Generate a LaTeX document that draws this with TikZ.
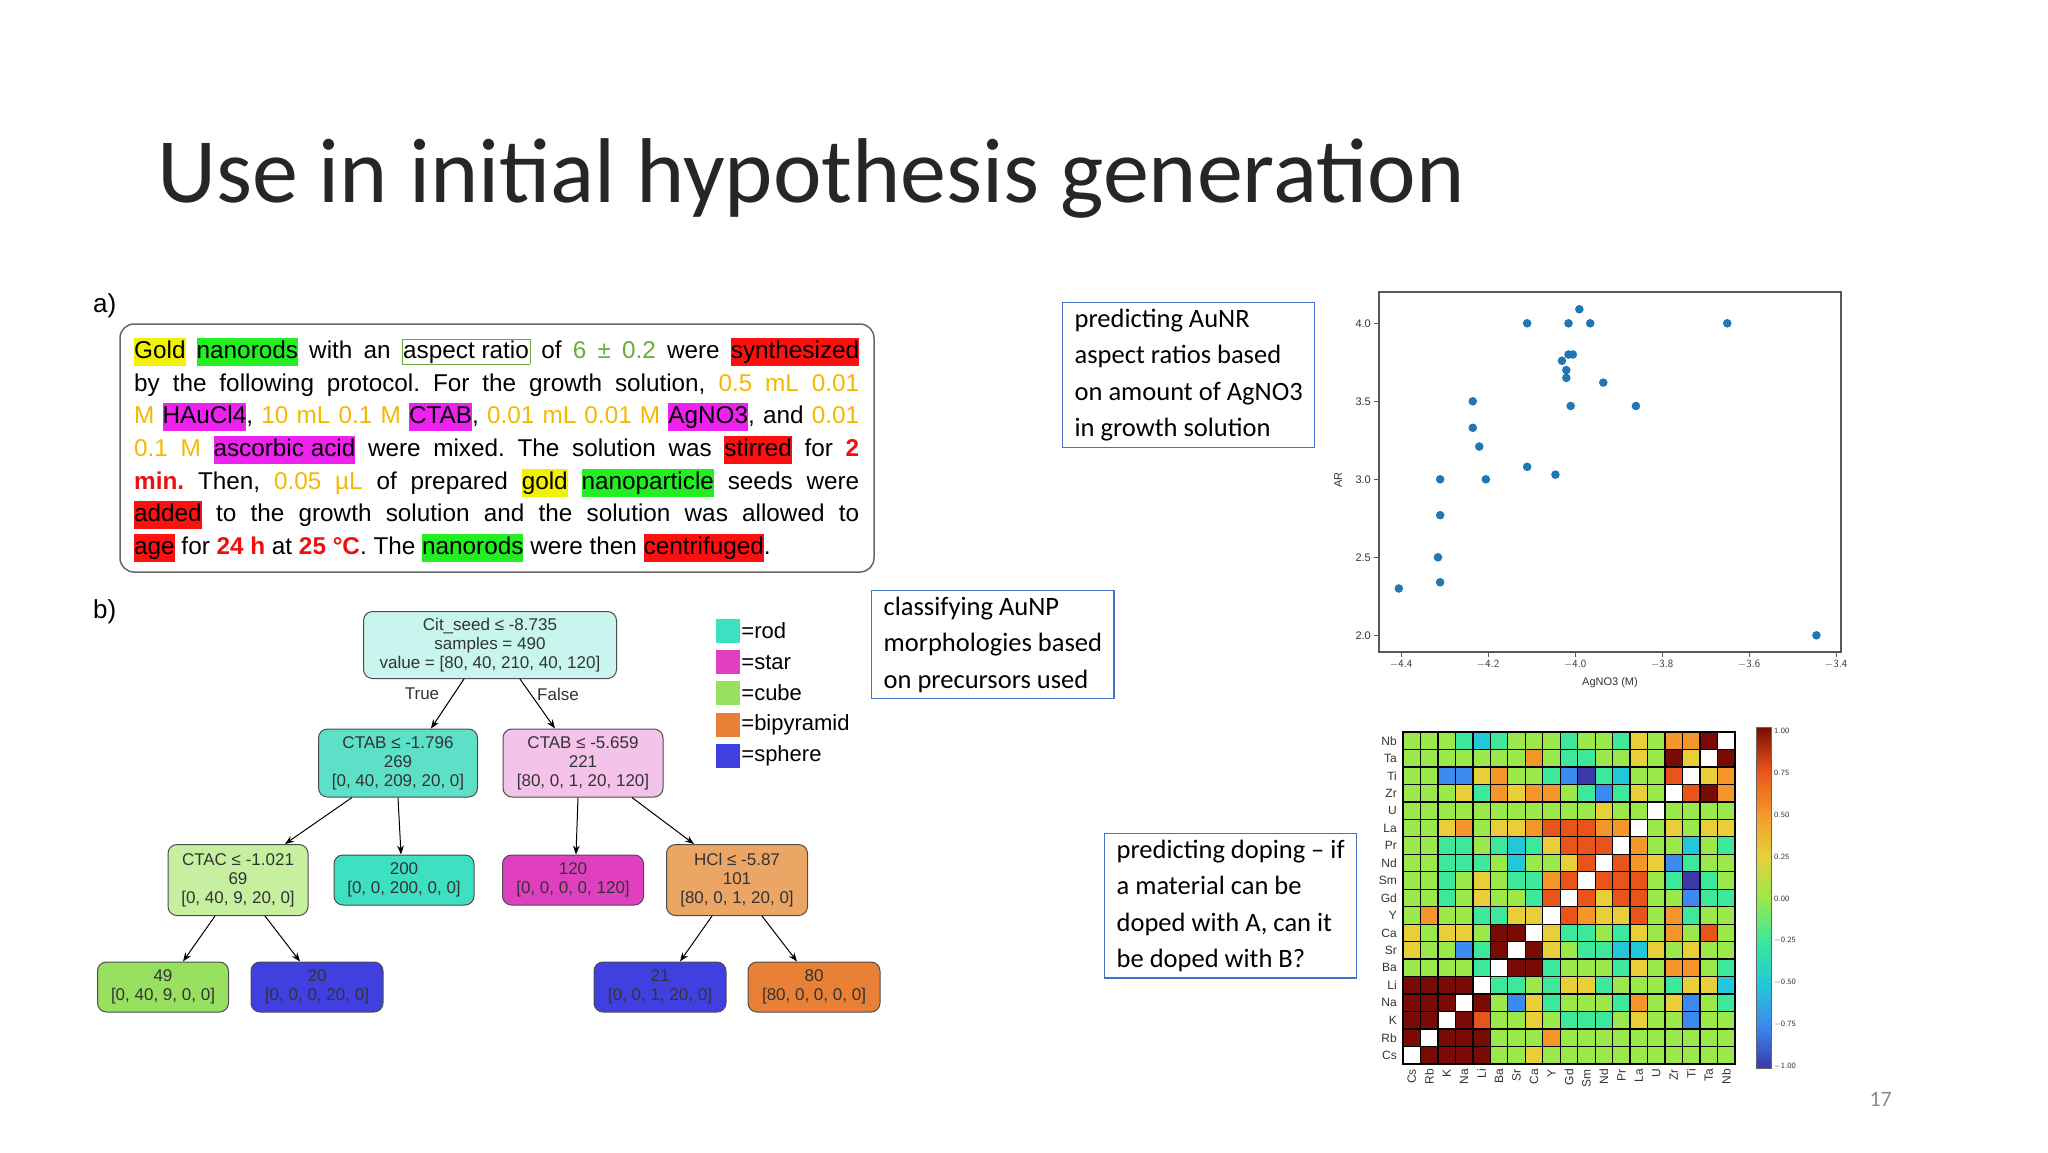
\documentclass[tikz,border=0pt]{standalone}
\usepackage{fontspec}
\setmainfont{Liberation Sans}
\newfontfamily\carl{Carlito}
\usetikzlibrary{arrows.meta}
\frenchspacing
\definecolor{hG}{HTML}{9BE84A}
\definecolor{hE}{HTML}{3DE89A}
\definecolor{hC}{HTML}{22C8D8}
\definecolor{hB}{HTML}{3A8AF0}
\definecolor{hD}{HTML}{3B3AA8}
\definecolor{hY}{HTML}{E8CF3A}
\definecolor{hO}{HTML}{F5962A}
\definecolor{hR}{HTML}{E8541A}
\definecolor{hM}{HTML}{7A0A04}
\definecolor{hW}{HTML}{FFFFFF}
\definecolor{callblue}{HTML}{4472C4}
\definecolor{hlyel}{HTML}{F2F200}
\definecolor{hlgrn}{HTML}{22EE22}
\definecolor{hlmag}{HTML}{EE22EE}
\definecolor{hlred}{HTML}{FF1010}
\definecolor{txyel}{HTML}{F5B800}
\definecolor{txgrn}{HTML}{6AAE3A}
\definecolor{txred}{HTML}{EE1010}
\definecolor{dotblue}{HTML}{1F77B4}
\definecolor{nroot}{HTML}{C8F5EE}
\definecolor{nteal}{HTML}{5CE0C8}
\definecolor{npink}{HTML}{F5C2EA}
\definecolor{nltg}{HTML}{C6F0A0}
\definecolor{nrod}{HTML}{3DE0C0}
\definecolor{nstar}{HTML}{E040C0}
\definecolor{nlor}{HTML}{EBA565}
\definecolor{ncube}{HTML}{98E060}
\definecolor{nsph}{HTML}{4040E0}
\definecolor{nbip}{HTML}{E88035}
\newcommand\hlb[2]{{\setlength\fboxsep{0pt}\colorbox{#1}{\strut #2}}}
\newcommand\tc[2]{\textcolor{#1}{#2}}
\tikzset{
  treenode/.style={draw=black!70, rounded corners=9pt, align=center, text=black!80,
     font=\fontsize{17}{19}\selectfont, inner sep=4pt, line width=1pt},
  callout/.style={draw=callblue, line width=1.3pt, align=left, anchor=north west,
     font=\carl\fontsize{26.5}{36.6}\selectfont, inner xsep=12pt, inner ysep=6pt},
  tedge/.style={-{Stealth[length=9pt]}, line width=1pt},
  txtline/.style={anchor=base west, inner sep=0pt, font=\fontsize{24.3}{28}\selectfont},
  legsq/.style={minimum size=24pt, inner sep=0pt},
  legtx/.style={anchor=west, font=\fontsize{22}{24}\selectfont, inner sep=1pt},
  cell/.style={draw=black, line width=1.3pt},
  small/.style={font=\fontsize{11}{12}\selectfont, text=black!80, inner sep=2pt},
}
\begin{document}
\begin{tikzpicture}[x=1pt,y=-1pt]
\useasboundingbox (0,0) rectangle (2048,1152);
\fill[white] (0,0) rectangle (2048,1152);
% title
\node[anchor=base west, inner sep=0pt, font=\carl\fontsize{92}{100}\selectfont, text=black!85] (title) at (157,202) {Use in initial hypothesis generation};
% a)
\node[anchor=base west, font=\fontsize{26}{28}\selectfont, inner sep=0pt] (la) at (93,312) {a)};
\draw[black!60, line width=1.5pt, rounded corners=14pt] (120,324) rectangle (874,572);
\def\lw{725pt}
\node[txtline] (l1) at (134,358) {\makebox[\lw][s]{\hlb{hlyel}{Gold} \hlb{hlgrn}{nanorods} with an {\setlength\fboxsep{1pt}\fcolorbox{txgrn}{white}{aspect ratio}} of \tc{txgrn}{6 ± 0.2} were \hlb{hlred}{synthesized}}};
\node[txtline] (l2) at (134,391) {\makebox[\lw][s]{by the following protocol. For the growth solution, \tc{txyel}{0.5 mL 0.01}}};
\node[txtline] (l3) at (134,423) {\makebox[\lw][s]{\tc{txyel}{M} \hlb{hlmag}{HAuCl4}, \tc{txyel}{10 mL 0.1 M} \hlb{hlmag}{CTAB}, \tc{txyel}{0.01 mL 0.01 M} \hlb{hlmag}{AgNO3}, and \tc{txyel}{0.01}}};
\node[txtline] (l4) at (134,456) {\makebox[\lw][s]{\tc{txyel}{0.1 M} \hlb{hlmag}{ascorbic acid} were mixed. The solution was \hlb{hlred}{stirred} for \tc{txred}{\bfseries 2}}};
\node[txtline] (l5) at (134,489) {\makebox[\lw][s]{\tc{txred}{\bfseries min.} Then, \tc{txyel}{0.05 µL} of prepared \hlb{hlyel}{gold} \hlb{hlgrn}{nanoparticle} seeds were}};
\node[txtline] (l6) at (134,521) {\makebox[\lw][s]{\hlb{hlred}{added} to the growth solution and the solution was allowed to}};
\node[txtline] (l7) at (134,554) {\hlb{hlred}{age} for \tc{txred}{\bfseries 24 h} at \tc{txred}{\bfseries 25 °C}. The \hlb{hlgrn}{nanorods} were then \hlb{hlred}{centrifuged}.};
% b)
\node[anchor=base west, font=\fontsize{26}{28}\selectfont, inner sep=0pt] (lb) at (93,618) {b)};
% tree
\node[treenode, fill=nroot, minimum width=253pt, minimum height=67pt] (root) at (490,645) {Cit\_seed ≤ -8.735\\samples = 490\\value = [80, 40, 210, 40, 120]};
\node[treenode, fill=nteal, minimum width=159pt, minimum height=68pt] (c1) at (398,763) {CTAB ≤ -1.796\\269\\{}[0, 40, 209, 20, 0]};
\node[treenode, fill=npink, minimum width=160pt, minimum height=68pt] (c2) at (583,763) {CTAB ≤ -5.659\\221\\{}[80, 0, 1, 20, 120]};
\node[treenode, fill=nltg, minimum width=140pt, minimum height=71pt] (c3) at (238,880) {CTAC ≤ -1.021\\69\\{}[0, 40, 9, 20, 0]};
\node[treenode, fill=nrod, minimum width=140pt, minimum height=50pt] (c4) at (404,880) {200\\{}[0, 0, 200, 0, 0]};
\node[treenode, fill=nstar, minimum width=141pt, minimum height=50pt] (c5) at (573,880) {120\\{}[0, 0, 0, 0, 120]};
\node[treenode, fill=nlor, minimum width=141pt, minimum height=71pt] (c6) at (737,880) {HCl ≤ -5.87\\101\\{}[80, 0, 1, 20, 0]};
\node[treenode, fill=ncube, minimum width=131pt, minimum height=50pt] (c7) at (163,987) {49\\{}[0, 40, 9, 0, 0]};
\node[treenode, fill=nsph, minimum width=132pt, minimum height=50pt] (c8) at (317,987) {20\\{}[0, 0, 0, 20, 0]};
\node[treenode, fill=nsph, minimum width=132pt, minimum height=50pt] (c9) at (660,987) {21\\{}[0, 0, 1, 20, 0]};
\node[treenode, fill=nbip, minimum width=132pt, minimum height=50pt] (c10) at (814,987) {80\\{}[80, 0, 0, 0, 0]};
\draw[tedge] (root.south -| 464,0) -- (c1.north -| 431,0);
\draw[tedge] (root.south -| 520,0) -- (c2.north -| 555,0);
\node[font=\fontsize{17}{19}\selectfont, text=black!80] (tt) at (422,694) {True};
\node[font=\fontsize{17}{19}\selectfont, text=black!80] (ff) at (558,694) {False};
\draw[tedge] (c1.south -| 352,0) -- (c3.north -| 285,0);
\draw[tedge] (c1.south -| 398,0) -- (c4.north -| 401,0);
\draw[tedge] (c2.south -| 578,0) -- (c5.north -| 576,0);
\draw[tedge] (c2.south -| 632,0) -- (c6.north -| 694,0);
\draw[tedge] (c3.south -| 215,0) -- (c7.north -| 183,0);
\draw[tedge] (c3.south -| 265,0) -- (c8.north -| 300,0);
\draw[tedge] (c6.south -| 712,0) -- (c9.north -| 680,0);
\draw[tedge] (c6.south -| 762,0) -- (c10.north -| 797,0);
% legend
\foreach \col/\lab/\yy [count=\i] in {nrod/=rod/631, nstar/=star/662, ncube/=cube/693, nbip/=bipyramid/725, nsph/=sphere/756}{
  \node[legsq, fill=\col] (sq\i) at (728,\yy) {};
  \node[legtx] (lt\i) at (sq\i.east) {\lab};
}
% callouts
\node[callout] (k1) at (1062,302) {predicting AuNR\\aspect ratios based\\on amount of AgNO3\\in growth solution};
\node[callout] (k2) at (871,590) {classifying AuNP\\morphologies based\\on precursors used};
\node[callout] (k3) at (1104,833) {predicting doping – if\\a material can be\\doped with A, can it\\be doped with B?};
% scatter
\draw[black!65, line width=1.2pt] (1379,292) rectangle (1841,652);
\foreach \v [count=\i] in {-4.4,-4.2,-4.0,-3.8,-3.6,-3.4}{
  \pgfmathsetmacro\xx{1401+435*(\v+4.4)}
  \draw[black!65] (\xx,652) -- (\xx,657);
  \node[small, anchor=north] (xt\i) at (\xx,658) {$\mathsf{\v}$};
}
\foreach \v [count=\i] in {2.0,2.5,3.0,3.5,4.0}{
  \pgfmathsetmacro\yy{635.3-156*(\v-2)}
  \draw[black!65] (1379,\yy) -- (1374,\yy);
  \node[small, anchor=east] (yt\i) at (1373,\yy) {\v};
}
\node[small, rotate=90] (ar) at (1338,480) {AR};
\node[small] (xl) at (1610,683) {AgNO3 (M)};
\foreach \px/\py in {-4.405/2.3,-4.31/3.0,-4.31/2.77,-4.315/2.5,-4.31/2.34,-4.235/3.5,-4.235/3.33,-4.22/3.21,-4.205/3.0,-4.11/4.0,-4.11/3.08,-4.045/3.03,-4.03/3.76,-4.02/3.7,-4.02/3.65,-4.015/3.8,-4.005/3.8,-4.015/4.0,-4.01/3.47,-3.99/4.09,-3.965/4.0,-3.935/3.62,-3.86/3.47,-3.65/4.0,-3.445/2.0}{
  \fill[dotblue] ({1401+435*(\px+4.4)},{635.3-156*(\py-2)}) circle (4.3);
}
% heatmap
\def\cw{17.47}
\foreach \rowlist [count=\r from 0] in {
{G,G,G,E,C,E,G,G,G,E,G,G,E,Y,G,O,O,M,W},
{G,G,G,G,G,G,G,O,G,E,E,G,G,Y,G,M,Y,W,M},
{G,G,B,B,Y,O,G,G,E,B,D,E,C,G,G,R,W,Y,O},
{G,G,G,Y,E,O,Y,O,O,G,E,B,E,Y,G,W,R,M,O},
{G,G,G,G,G,G,G,G,G,G,G,Y,G,G,W,G,G,G,G},
{G,G,Y,O,G,Y,Y,O,R,R,R,O,O,W,G,Y,G,Y,Y},
{G,G,E,E,G,E,C,E,Y,R,R,R,W,O,G,G,C,G,E},
{G,G,E,E,E,G,C,G,G,Y,R,W,R,O,Y,B,E,G,G},
{G,G,E,G,Y,G,E,E,O,R,W,R,R,R,G,E,D,E,G},
{G,G,E,G,Y,G,G,E,R,W,R,Y,R,R,G,G,B,E,E},
{G,O,G,G,E,E,Y,Y,W,R,O,Y,Y,R,G,O,E,G,G},
{Y,G,Y,Y,G,M,M,W,Y,E,E,G,E,Y,G,O,G,R,G},
{Y,G,G,B,E,M,W,M,Y,G,E,E,C,C,Y,G,Y,G,G},
{G,G,G,G,E,W,M,M,E,G,G,G,E,Y,G,O,O,G,E},
{M,M,M,M,W,E,E,G,E,Y,Y,E,G,G,G,E,Y,Y,C},
{M,M,M,W,M,G,B,Y,E,G,G,G,E,O,G,Y,B,G,E},
{M,M,W,M,R,G,G,Y,G,E,E,E,G,Y,G,G,B,G,G},
{M,W,M,M,M,G,G,G,O,G,G,G,G,G,G,G,G,G,G},
{W,M,M,M,M,G,G,Y,G,G,G,G,G,G,G,G,G,G,G}}{
  \foreach \c [count=\k from 0] in \rowlist {
    \filldraw[cell, fill=h\c] ({1403+\k*\cw},{732+\r*\cw}) rectangle ++(\cw,\cw);
  }
}
\foreach \n [count=\r from 0] in {Nb,Ta,Ti,Zr,U,La,Pr,Nd,Sm,Gd,Y,Ca,Sr,Ba,Li,Na,K,Rb,Cs}{
  \node[small, anchor=east, font=\fontsize{12}{13}\selectfont] (rl\r) at (1399,{732+(\r+0.5)*\cw}) {\n};
}
\foreach \n [count=\k from 0] in {Cs,Rb,K,Na,Li,Ba,Sr,Ca,Y,Gd,Sm,Nd,Pr,La,U,Zr,Ti,Ta,Nb}{
  \node[small, anchor=east, rotate=90, font=\fontsize{12}{13}\selectfont] (cl\k) at ({1403+(\k+0.5)*\cw},1067) {\n};
}
% colorbar
\def\cbx{1756}
\foreach \ca/\cb/\ya [count=\i] in {hM/hR/727, hR/hO/770, hO/hY/812, hY/hG/855, hG/hE/897, hE/hC/940, hC/hB/983, hB/hD/1025}{
  \shade[top color=\ca, bottom color=\cb] (\cbx,\ya) rectangle (\cbx+15,\ya+43);
}
\draw[black!60, line width=0.6pt] (\cbx,727) rectangle (\cbx+15,1068);
\foreach \v [count=\i from 0] in {1.00,0.75,0.50,0.25,0.00,-0.25,-0.50,-0.75,-1.00}{
  \node[small, anchor=west, font=\fontsize{8}{9}\selectfont] (cb\i) at (\cbx+16,{731+\i*41.9}) {$\mathsf{\v}$};
}
% page number
\node[anchor=base west, font=\carl\fontsize{22}{24}\selectfont, text=black!45] (pg) at (1866,1106) {17};
\end{tikzpicture}
\end{document}
